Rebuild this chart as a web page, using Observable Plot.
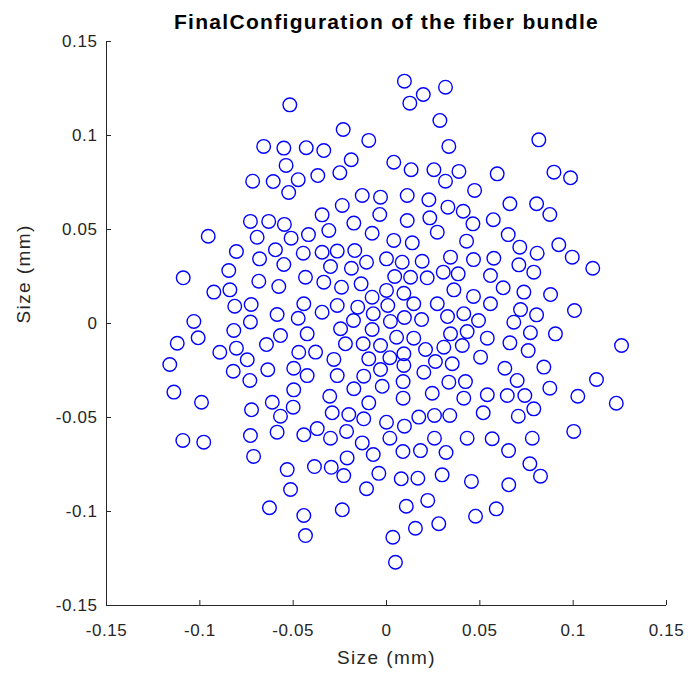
<!DOCTYPE html>
<html>
<head>
<meta charset="utf-8">
<script src="https://cdn.jsdelivr.net/npm/d3@7"></script>
<script src="https://cdn.jsdelivr.net/npm/@observablehq/plot@0.6"></script>
<style>
  html, body { margin: 0; padding: 0; background: #ffffff; }
</style>
</head>
<body>
<div id="chart"></div>
<script>
const chartTitle = "FinalConfiguration of the fiber bundle";
const xLabel = "Size (mm)";
const yLabel = "Size (mm)";
const xDomain = [-0.15, 0.15];
const yDomain = [-0.15, 0.15];
const tickValues = [-0.15, -0.1, -0.05, 0, 0.05, 0.1, 0.15];
const tickLabels = ["-0.15", "-0.1", "-0.05", "0", "0.05", "0.1", "0.15"];

const fiberX = [
  -0.0518,-0.0658,-0.0550,-0.0430,-0.0538,-0.0717,-0.0607,-0.0473,-0.0368,-0.0524,0.0096,0.0316,0.0197,0.0125,0.0286,-0.0232,-0.0095,0.0334,-0.0336,-0.0189,0.0039,0.0132,0.0254,0.0388,0.0316,-0.0250,0.0472,0.0816,0.0593,0.0897,0.0986,
  -0.0729,-0.0631,-0.0547,-0.0955,-0.0693,-0.0511,-0.0418,-0.0804,-0.0595,-0.0446,-0.0680,-0.0550,-0.0845,-0.1089,-0.0684,-0.0434,-0.0577,-0.0925,-0.0839,-0.0813,-0.0725,-0.0443,-0.0586,-0.0473,-0.1032,-0.0729,
  -0.0130,-0.0032,0.0111,0.0227,-0.0237,-0.0345,-0.0036,0.0329,0.0411,0.0111,0.0232,-0.0309,-0.0175,-0.0077,0.0039,0.0138,0.0272,0.0429,-0.0345,-0.0264,-0.0170,-0.0300,-0.0188,-0.0107,0.0000,0.0084,0.0191,0.0343,-0.0336,-0.0241,-0.0136,0.0044,0.0129,0.0218,0.0304,0.0384,0.0000,0.0093,-0.0077,0.0361,0.0466,-0.0345,-0.0264,-0.0154,-0.0071,0.0007,0.0146,0.0272,0.0414,-0.0177,0.0021,0.0096,0.0188,0.0327,
  0.0661,0.0804,0.0875,0.0572,0.0463,0.0652,0.0714,0.0807,0.0923,0.0995,0.1105,0.0466,0.0575,0.0709,0.0789,0.0557,0.0625,0.0736,0.0879,0.0557,0.0718,0.0804,0.1007,0.0493,0.0682,
  -0.0818,-0.1121,-0.1009,-0.0893,-0.0804,-0.0746,-0.0643,-0.0568,-0.0425,-0.0470,-0.0380,-0.1161,-0.0821,-0.0732,-0.0636,-0.0497,-0.0425,-0.0497,-0.1139,-0.0991,-0.0723,-0.0612,-0.0500,-0.0568,-0.0586,-0.0443,-0.0729,-0.1091,-0.0979,-0.0712,
  -0.0246,-0.0077,0.0343,0.0432,-0.0220,-0.0125,-0.0032,0.0054,0.0146,0.0209,0.0307,0.0406,-0.0282,-0.0095,0.0018,0.0093,0.0093,0.0262,0.0352,-0.0264,-0.0122,-0.0032,0.0089,0.0200,0.0334,0.0423,-0.0175,-0.0023,-0.0304,-0.0095,0.0089,0.0245,0.0414,-0.0291,-0.0202,-0.0122,0.0000,0.0096,0.0173,0.0257,0.0339,-0.0371,-0.0300,-0.0214,-0.0130,0.0018,0.0088,0.0182,0.0257,0.0319,0.0432,
  0.0540,0.0661,0.0771,0.0905,0.0759,0.1259,0.0504,0.0634,0.0843,0.0700,0.1125,0.0875,0.0540,0.0647,0.0741,0.1025,0.1231,0.0518,0.0706,0.0789,0.1003,0.0566,0.0781,0.0654,
  -0.0532,-0.0386,-0.0514,-0.0627,-0.0443,-0.0434,
  -0.0296,-0.0211,-0.0229,-0.0071,-0.0041,-0.0107,0.0079,0.0168,0.0298,0.0455,-0.0237,0.0106,0.0221,0.0280,0.0155,0.0034,0.0048,0.0477,
  0.0768,0.0825,0.0655,0.0588
];

const fiberY = [
  0.1163,0.0942,0.0933,0.0935,0.0841,0.0757,0.0755,0.0765,0.0787,0.0697,0.1289,0.1257,0.1218,0.1172,0.1080,0.1032,0.0974,0.0942,0.0920,0.0871,0.0858,0.0818,0.0818,0.0809,0.0757,0.0802,0.0708,0.0977,0.0796,0.0805,0.0775,
  0.0543,0.0543,0.0527,0.0464,0.0459,0.0454,0.0473,0.0383,0.0392,0.0374,0.0344,0.0314,0.0282,0.0243,0.0225,0.0246,0.0197,0.0167,0.0179,0.0092,0.0101,0.0105,0.0048,0.0028,0.0011,0.0008,
  0.0681,0.0672,0.0681,0.0658,0.0628,0.0578,0.0580,0.0619,0.0597,0.0548,0.0562,0.0495,0.0534,0.0480,0.0442,0.0429,0.0486,0.0438,0.0379,0.0385,0.0388,0.0303,0.0294,0.0326,0.0344,0.0326,0.0331,0.0353,0.0220,0.0193,0.0211,0.0250,0.0246,0.0243,0.0273,0.0264,0.0176,0.0161,0.0140,0.0179,0.0144,0.0060,0.0096,0.0087,0.0052,0.0096,0.0105,0.0105,0.0052,0.0016,0.0011,0.0032,0.0021,0.0037,
  0.0637,0.0637,0.0580,0.0552,0.0530,0.0473,0.0406,0.0374,0.0419,0.0353,0.0294,0.0340,0.0347,0.0312,0.0273,0.0255,0.0190,0.0167,0.0154,0.0105,0.0074,0.0046,0.0069,0.0016,0.0007,
  -0.0037,-0.0105,-0.0076,-0.0153,-0.0131,-0.0193,-0.0112,-0.0064,-0.0055,-0.0153,-0.0152,-0.0218,-0.0254,-0.0303,-0.0246,-0.0238,-0.0277,-0.0353,-0.0365,-0.0419,-0.0459,-0.0419,-0.0445,-0.0493,-0.0578,-0.0592,-0.0596,-0.0622,-0.0631,-0.0707,
  -0.0028,-0.0032,-0.0055,-0.0043,-0.0108,-0.0108,-0.0117,-0.0073,-0.0078,-0.0138,-0.0126,-0.0117,-0.0191,-0.0188,-0.0182,-0.0161,-0.0223,-0.0202,-0.0214,-0.0277,-0.0280,-0.0245,-0.0309,-0.0259,-0.0312,-0.0309,-0.0347,-0.0334,-0.0387,-0.0422,-0.0397,-0.0371,-0.0397,-0.0475,-0.0484,-0.0507,-0.0525,-0.0546,-0.0498,-0.0489,-0.0489,-0.0559,-0.0610,-0.0574,-0.0635,-0.0610,-0.0681,-0.0676,-0.0610,-0.0686,-0.0610,
  -0.0078,-0.0103,-0.0049,-0.0055,-0.0144,-0.0117,-0.0179,-0.0238,-0.0232,-0.0303,-0.0298,-0.0344,-0.0379,-0.0383,-0.0383,-0.0387,-0.0424,-0.0475,-0.0493,-0.0454,-0.0574,-0.0613,-0.0610,-0.0676,
  -0.0777,-0.0761,-0.0883,-0.0980,-0.1021,-0.1128,
  -0.0765,-0.0715,-0.0809,-0.0697,-0.0797,-0.0879,-0.0826,-0.0823,-0.0805,-0.0840,-0.0991,-0.0972,-0.0941,-0.1065,-0.1089,-0.1137,-0.1270,-0.1025,
  -0.0746,-0.0812,-0.0858,-0.0986
];

if (fiberX.length !== fiberY.length) {
  throw new Error("length mismatch " + fiberX.length + " vs " + fiberY.length);
}

const fibers = fiberX.map((x, i) => ({x, y: fiberY[i]}));
const fmt = d => tickLabels[tickValues.indexOf(d)];
const ink = "#262626";

const chart = Plot.plot({
  width: 697,
  height: 679,
  marginLeft: 106,
  marginRight: 31,
  marginTop: 41,
  marginBottom: 74,
  style: {fontFamily: "'Liberation Sans', Arial, Helvetica, sans-serif", fontSize: "17px", color: ink, background: "#ffffff", letterSpacing: "0.6px"},
  x: {domain: xDomain, label: null},
  y: {domain: yDomain, label: null},
  marks: [
    Plot.axisX({ticks: tickValues, tickFormat: fmt, tickSize: -5, tickPadding: 23, label: null, stroke: ink, fill: ink, fontSize: 17}),
    Plot.axisY({ticks: tickValues, tickFormat: fmt, tickSize: -5, tickPadding: 14, label: null, stroke: ink, fill: ink, fontSize: 17}),
    Plot.ruleX([xDomain[0]], {stroke: ink, strokeWidth: 1}),
    Plot.ruleY([yDomain[0]], {stroke: ink, strokeWidth: 1}),
    Plot.dot(fibers, {x: "x", y: "y", r: 6.8, stroke: "#0000ff", strokeWidth: 1.4, fill: "none"}),
    Plot.text([xLabel], {text: d => d, frameAnchor: "bottom", dy: 58, fontSize: 19, fill: ink, style: "letter-spacing:1.2px"}),
    Plot.text([yLabel], {text: d => d, frameAnchor: "left", dx: -83, rotate: -90, fontSize: 19, fill: ink}),
    Plot.text([chartTitle], {text: d => d, frameAnchor: "top", dy: -27, fontSize: 21, fontWeight: "bold", fill: "#000000"})
  ]
});
chart.querySelectorAll("text").forEach(t => {
  const s = t.textContent;
  if (s === xLabel) t.style.letterSpacing = "1.4px";
  if (s === chartTitle) t.style.letterSpacing = "1.3px";
});
document.getElementById("chart").appendChild(chart);
</script>
</body>
</html>
